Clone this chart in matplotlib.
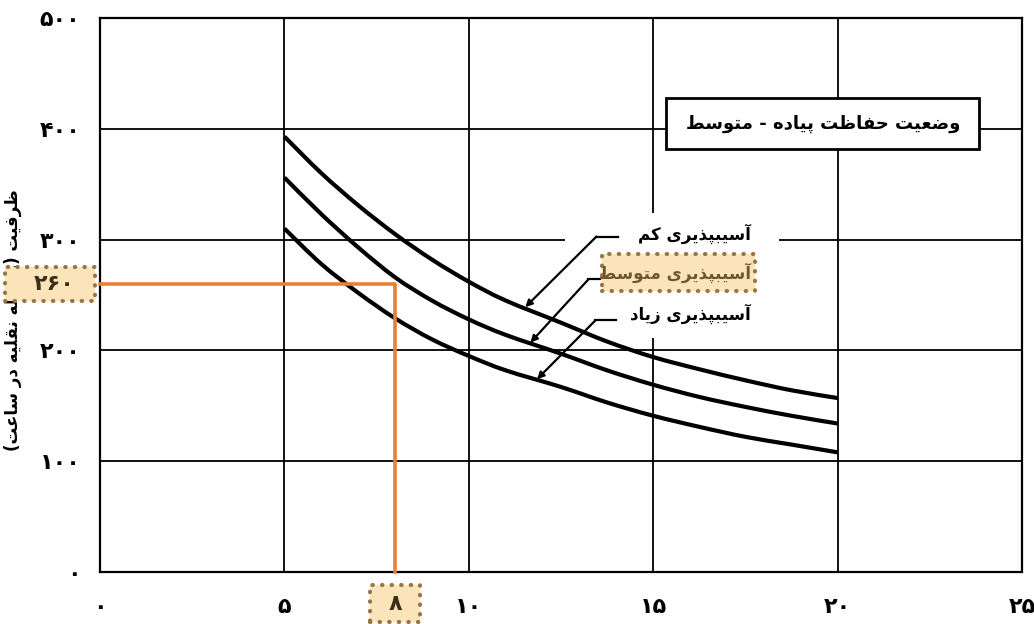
import numpy as np
import matplotlib
matplotlib.use('Agg')
import matplotlib.pyplot as plt
from matplotlib.patches import Rectangle, PathPatch
from matplotlib.path import Path

# frequency of pedestrian crossing vs capacity, three vulnerability levels
x_vals = [5, 6, 7, 8, 9, 10, 11, 12.5, 13.75, 15, 16.25, 17.5, 18.75, 20]
low_vuln = [393, 360, 331, 305, 282, 262, 245, 225, 208, 194, 183, 173, 164, 157]
mid_vuln = [356, 323, 293, 266, 245, 228, 214, 197, 182, 169, 158, 149, 141, 134]
high_vuln = [310, 278, 252, 229, 210, 195, 182, 167, 153, 141, 131, 122, 115, 108]

x_ticks = [0, 5, 10, 15, 20, 25]
y_ticks = [0, 100, 200, 300, 400, 500]

mark_x = 8
mark_y = 260

title = 'وضعیت حفاظت پیاده - متوسط'
ylab = 'ظرفیت (وسیله نقلیه در ساعت)'
curve_names = ['آسیبپذیری کم', 'آسیبپذیری متوسط', 'آسیبپذیری زیاد']

# --- simple persian shaping (matplotlib does no arabic shaping) ---
FORMS = {
    'آ': ('\uFE81', '\uFE82', None, None),
    'ا': ('\uFE8D', '\uFE8E', None, None),
    'د': ('\uFEA9', '\uFEAA', None, None),
    'ذ': ('\uFEAB', '\uFEAC', None, None),
    'ر': ('\uFEAD', '\uFEAE', None, None),
    'ز': ('\uFEAF', '\uFEB0', None, None),
    'و': ('\uFEED', '\uFEEE', None, None),
    'ب': ('\uFE8F', '\uFE90', '\uFE91', '\uFE92'),
    'ت': ('\uFE95', '\uFE96', '\uFE97', '\uFE98'),
    'ج': ('\uFE9D', '\uFE9E', '\uFE9F', '\uFEA0'),
    'ح': ('\uFEA1', '\uFEA2', '\uFEA3', '\uFEA4'),
    'س': ('\uFEB1', '\uFEB2', '\uFEB3', '\uFEB4'),
    'ض': ('\uFEBD', '\uFEBE', '\uFEBF', '\uFEC0'),
    'ط': ('\uFEC1', '\uFEC2', '\uFEC3', '\uFEC4'),
    'ظ': ('\uFEC5', '\uFEC6', '\uFEC7', '\uFEC8'),
    'ع': ('\uFEC9', '\uFECA', '\uFECB', '\uFECC'),
    'ف': ('\uFED1', '\uFED2', '\uFED3', '\uFED4'),
    'ق': ('\uFED5', '\uFED6', '\uFED7', '\uFED8'),
    'ک': ('\uFB8E', '\uFB8F', '\uFB90', '\uFB91'),
    'ل': ('\uFEDD', '\uFEDE', '\uFEDF', '\uFEE0'),
    'م': ('\uFEE1', '\uFEE2', '\uFEE3', '\uFEE4'),
    'ن': ('\uFEE5', '\uFEE6', '\uFEE7', '\uFEE8'),
    'ه': ('\uFEE9', '\uFEEA', '\uFEEB', '\uFEEC'),
    'ی': ('\uFBFC', '\uFBFD', '\uFBFE', '\uFBFF'),
    'پ': ('\uFB56', '\uFB57', '\uFB58', '\uFB59'),
    'چ': ('\uFB7A', '\uFB7B', '\uFB7C', '\uFB7D'),
}

def fa(text):
    out = []
    for i, c in enumerate(text):
        if c not in FORMS:
            out.append(c)
            continue
        iso, fin, ini, med = FORMS[c]
        prev = text[i-1] if i > 0 else ''
        nxt = text[i+1] if i+1 < len(text) else ''
        jp = prev in FORMS and FORMS[prev][2] is not None
        jn = ini is not None and nxt in FORMS
        if jp and jn:
            out.append(med)
        elif jp:
            out.append(fin)
        elif jn:
            out.append(ini)
        else:
            out.append(iso)
    s = ''.join(out)[::-1]
    return s.translate(str.maketrans('()', ')('))

def fa_num(n):
    return str(n).translate(str.maketrans('0123456789', '۰۱۲۳۴۵۶۷۸۹'))

def smooth_path(xs, ys):
    # catmull-rom through the read points, drawn as bezier segments
    p = np.column_stack([xs, ys]).astype(float)
    verts = [p[0]]
    codes = [Path.MOVETO]
    n = len(p)
    for i in range(n - 1):
        p0 = p[i-1] if i > 0 else p[i]
        p1, p2 = p[i], p[i+1]
        p3 = p[i+2] if i + 2 < n else p[i+1]
        c1 = p1 + (p2 - p0) / 6
        c2 = p2 - (p3 - p1) / 6
        verts += [c1, c2, p2]
        codes += [Path.CURVE4] * 3
    return Path(verts, codes)

plt.rcParams['font.family'] = ['DejaVu Sans']
orange = '#ED7D31'
hl_fill = '#FCE4BA'
hl_edge = '#9A7443'

fig = plt.figure(figsize=(10.34, 6.24), dpi=100)
ax = fig.add_axes([100/1034, 1-572/624, 922/1034, 554/624])
ax.set_xlim(0, 25)
ax.set_ylim(0, 500)
ax.set_xticks(x_ticks)
ax.set_yticks(y_ticks)
ax.set_xticklabels([fa_num(v) for v in x_ticks], fontsize=16, fontweight='bold')
ax.set_yticklabels([fa_num(v) for v in y_ticks], fontsize=16, fontweight='bold')
ax.tick_params(length=0)
ax.tick_params(axis='x', pad=18)
ax.tick_params(axis='y', pad=14)
ax.set_axisbelow(True)
ax.grid(color='black', lw=1.3)
for sp in ax.spines.values():
    sp.set_linewidth(1.6)

ax.set_ylabel(fa(ylab), fontsize=12, fontweight='bold')
ax.yaxis.set_label_coords(-0.085, 0.455)

# white area behind the curve labels
ax.add_patch(Rectangle((12.6, 211), 5.8, 113, fc='white', ec='none', zorder=1.5))

for yv in [low_vuln, mid_vuln, high_vuln]:
    ax.add_patch(PathPatch(smooth_path(x_vals, yv), fc='none', ec='black',
                           lw=3.0, zorder=3, capstyle='butt'))

# leaders + labels
tips = [(11.53, 239), (11.67, 207), (11.85, 174)]
elbows = [(13.46, 302.7), (13.24, 264), (13.43, 227)]
ends = [14.05, 13.57, 14.0]
label_y = [305, 270, 233]
for i in range(3):
    (tx, ty), (ex, ey) = tips[i], elbows[i]
    ax.plot([ex, ends[i]], [ey, ey], color='black', lw=1.6, zorder=4)
    ax.annotate('', xy=(tx, ty), xytext=(ex, ey),
                arrowprops=dict(arrowstyle='-|>', color='black', lw=1.6,
                                mutation_scale=10, shrinkA=0, shrinkB=0), zorder=4)
    col = '#6E5730' if i == 1 else 'black'
    ax.text(17.65, label_y[i], fa(curve_names[i]), ha='right', va='center',
            fontsize=12, fontweight='bold', color=col, zorder=6)

# highlight box on the medium label
ax.add_patch(Rectangle((13.62, 254), 4.14, 33, fc=hl_fill, ec=hl_edge, lw=3,
                       ls=(0, (0.1, 2.2)), capstyle='round', zorder=5))

# title box
ax.add_patch(Rectangle((15.35, 382), 8.49, 46, fc='white', ec='black', lw=2, zorder=5))
ax.text(19.6, 404, fa(title), ha='center', va='center', fontsize=13,
        fontweight='bold', zorder=6)

# orange reading lines
ax.plot([0, mark_x, mark_x], [mark_y, mark_y, 0], color=orange, lw=2.6,
        zorder=4, clip_on=False)

ytr = ax.get_yaxis_transform()
ax.add_patch(Rectangle((-0.103, mark_y - 15.5), 0.098, 31, transform=ytr,
                       fc=hl_fill, ec=hl_edge, lw=3, ls=(0, (0.1, 2.2)),
                       capstyle='round', clip_on=False, zorder=5))
ax.text(-0.05, mark_y, fa_num(mark_y), transform=ytr, ha='center', va='center',
        fontsize=16, fontweight='bold', color='#3a2e18', zorder=6)

xtr = ax.get_xaxis_transform()
ax.add_patch(Rectangle((mark_x - 0.68, -0.09), 1.36, 0.066, transform=xtr,
                       fc=hl_fill, ec=hl_edge, lw=3, ls=(0, (0.1, 2.2)),
                       capstyle='round', clip_on=False, zorder=5))
ax.text(mark_x, -0.058, fa_num(mark_x), transform=xtr, ha='center', va='center',
        fontsize=16, fontweight='bold', color='#3a2e18', zorder=6)

fig.savefig('out.png', dpi=100)
